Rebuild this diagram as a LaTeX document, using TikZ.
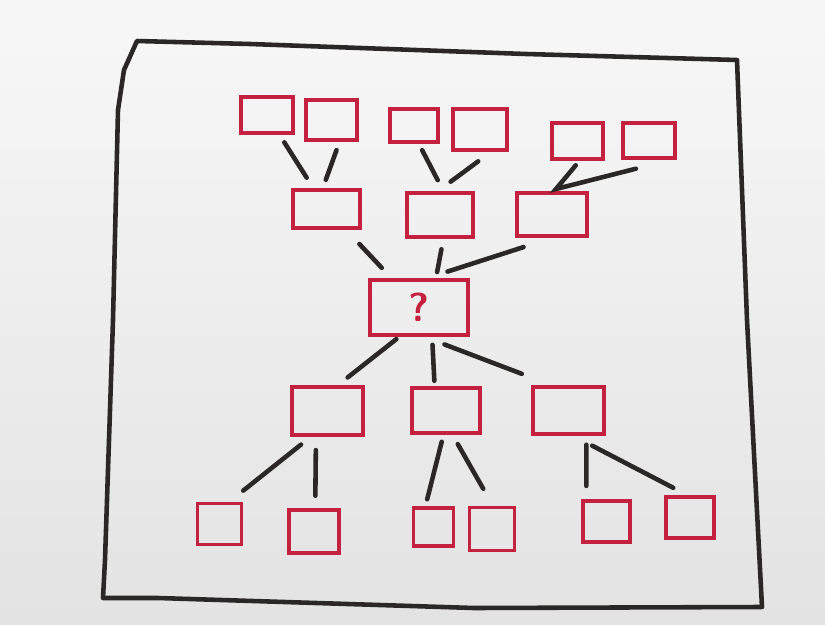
\documentclass[tikz,border=0pt]{standalone}
\usepackage{tikz}

\definecolor{pen}{HTML}{2B2727}
\definecolor{marker}{HTML}{C42040}
\tikzset{
  sq/.style 2 args={draw=marker,line width=2.2pt,minimum width=#1*0.02cm,minimum height=#2*0.02cm,inner sep=0pt},
  link/.style={draw=pen,line width=2.6pt,line cap=round}
}

\begin{document}
\begin{tikzpicture}[x=0.02cm,y=-0.02cm]
   		\fill[top color=white!60!gray!15,bottom color=gray!22] (0,0) rectangle (825,625);
        \useasboundingbox (0,0) rectangle (825,625);
        % hand drawn frame
        \draw[pen,line width=2.6pt,line join=round] (137,41) -- (250,44) -- (526,54) -- (737,60) -- (747,320) -- (762,607)
              -- (474,608) -- (158,598) -- (103,598) -- (105,560) -- (113,320) -- (118,110) -- (124,70) -- cycle;
        % top row
        \node at (267,115) [sq={52}{36}] (t1) {};
        \node at (331.5,120) [sq={51}{40}] (t2) {};
        \node at (414,125.5) [sq={48}{33}] (t3) {};
        \node at (480,129.5) [sq={54}{41}] (t4) {};
        \node at (577.5,141) [sq={51}{36}] (t5) {};
        \node at (649,140.5) [sq={52}{35}] (t6) {};
        % second row
        \node at (326.5,209) [sq={67}{38}] (m1) {};
        \node at (440,215) [sq={66}{44}] (m2) {};
        \node at (552,214.5) [sq={70}{43}] (m3) {};
        % middle
        \node at (419,307.5) [sq={98}{55},text=marker,font=\sffamily\bfseries\fontsize{23}{23}\selectfont] (q) {?};
        % third row
        \node at (327.5,411) [sq={71}{48}] (l1) {};
        \node at (446,410.5) [sq={68}{45}] (l2) {};
        \node at (568.5,410.5) [sq={71}{47}] (l3) {};
        % bottom row
        \node at (219.5,524) [sq={44}{41}] (b1) {};
        \node at (314,531.5) [sq={50}{43}] (b2) {};
        \node at (433.5,527) [sq={40}{38}] (b3) {};
        \node at (492,529) [sq={45}{43}] (b4) {};
        \node at (606.5,521.5) [sq={47}{41}] (b5) {};
        \node at (690,517.5) [sq={48}{41}] (b6) {};
        % upper links
        \draw[link,shorten <=5pt,shorten >=7pt] (t1) -- (m1);
        \draw[link,shorten <=5pt,shorten >=5pt] (t2.-70) -- (m1.100);
        \draw[link,shorten <=4pt,shorten >=7pt] (t3.-75) -- (m2.82);
        \draw[link,shorten <=9pt,shorten >=9pt] (t4.-64) -- (m2.95);
        \coordinate (v) at (556,189);
        \draw[link] ([yshift=-2.5pt]t5.-95) -- (v) -- ([yshift=-5pt]t6.-124);
        \draw[link,shorten <=11pt,shorten >=8pt] (m1) -- (q);
        \draw[link,shorten <=6pt,shorten >=3.5pt] (m2.-82) -- (q.60);
        \draw[link,shorten <=17pt,shorten >=12pt] (m3.-90) -- (q.74);
        % lower links
        \draw[link,shorten <=2pt,shorten >=7pt] (q.-124) -- (l1.68);
        \draw[link,shorten <=4.5pt,shorten >=3pt] (q.-66) -- (l2.115);
        \draw[link,shorten <=12pt,shorten >=18pt] (q.-79) -- (l3.124);
        \draw[link,shorten <=7pt,shorten >=10pt] (l1.-123) -- (b1.66);
        \draw[link,shorten <=7.5pt,shorten >=7pt] (l1.-114) -- (b2.87);
        \draw[link,shorten <=4pt,shorten >=4pt] (l2.-96) -- (b3.111);
        \draw[link,shorten <=6pt,shorten >=11pt] (l2.-75) -- (b4.88);
        \draw[link,shorten <=5pt,shorten >=7.5pt] (l3.-55) -- (b5.132);
        \draw[link,shorten <=12pt,shorten >=9pt] (l3.-79) -- (b6.97);
    \end{tikzpicture}
\end{document}
